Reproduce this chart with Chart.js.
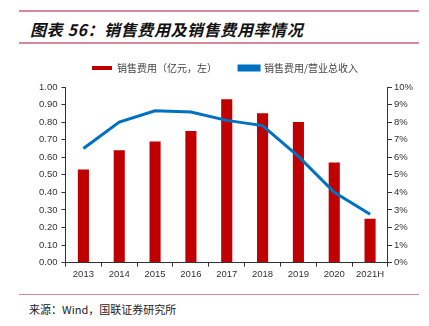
<!DOCTYPE html>
<html>
<head>
<meta charset="utf-8">
<script src="https://cdn.jsdelivr.net/npm/chart.js@4"></script>
<style>
  body { margin: 0; width: 429px; height: 326px; background: #fff; position: relative; overflow: hidden; }
  .rule { position: absolute; left: 19px; width: 400px; height: 2px; background: #d9889b; }
  #title { position: absolute; left: 30px; top: 17px; font: italic bold 16px "Noto Sans CJK SC", sans-serif; color: #111; letter-spacing: 0.6px; }
  #source { position: absolute; left: 29px; top: 301px; font: 11px "Noto Sans CJK SC", sans-serif; color: #222; }
  #wrap { position: absolute; left: 0; top: 41px; width: 429px; height: 241px; }
</style>
</head>
<body>
<div class="rule" style="top:10px"></div>
<div id="title">图表 56：销售费用及销售费用率情况</div>
<div class="rule" style="top:42px"></div>
<div id="wrap"><canvas id="chart"></canvas></div>
<div class="rule" style="top:294px; height:1px"></div>
<div id="source">来源：Wind，国联证券研究所</div>
<script>
// categories and series
const years = ['2013', '2014', '2015', '2016', '2017', '2018', '2019', '2020', '2021H'];
const salesExpense = [0.53, 0.64, 0.69, 0.75, 0.93, 0.85, 0.80, 0.57, 0.25]; // 亿元
const expenseRatio = [6.5, 8.0, 8.65, 8.57, 8.1, 7.8, 6.05, 4.0, 2.75]; // %

const ctx = document.getElementById('chart').getContext('2d');
const tickFont = { family: 'Liberation Sans, Arial, sans-serif', size: 9.5 };

// a little extra room under the legend
const legendGap = {
    id: 'legendGap',
    beforeInit(chart) {
        const fit = chart.legend.fit;
        chart.legend.fit = function () {
            fit.bind(chart.legend)();
            this.height += 4;
        };
    }
};

new Chart(ctx, {
    type: 'bar',
    data: {
        labels: years,
        datasets: [
            {
                type: 'line',
                label: '销售费用/营业总收入',
                data: expenseRatio,
                borderColor: '#0070c0',
                backgroundColor: '#0070c0',
                borderWidth: 3,
                pointRadius: 0,
                tension: 0,
                yAxisID: 'y1',
                order: 0
            },
            {
                label: '销售费用（亿元，左）',
                data: salesExpense,
                backgroundColor: '#c00000',
                barPercentage: 0.62,
                categoryPercentage: 0.5,
                yAxisID: 'y',
                order: 1
            }
        ]
    },
    options: {
        responsive: true,
        maintainAspectRatio: false,
        animation: false,
        layout: { padding: { left: 35, right: 14, top: 0, bottom: 0 } },
        plugins: {
            legend: {
                display: true,
                reverse: true,
                labels: {
                    boxWidth: 20,
                    boxHeight: 4,
                    padding: 22,
                    color: '#444',
                    font: { family: 'Noto Sans CJK SC', size: 10 }
                }
            },
            tooltip: { enabled: false }
        },
        scales: {
            x: {
                grid: { drawOnChartArea: false, offset: true, tickLength: 4, color: '#333' },
                border: { color: '#333', width: 1 },
                ticks: { color: '#333', font: tickFont, padding: 2, maxRotation: 0, minRotation: 0, autoSkip: false }
            },
            y: {
                position: 'left',
                min: 0,
                max: 1,
                grid: { drawOnChartArea: false, tickLength: 4, color: '#333' },
                border: { color: '#333', width: 1 },
                ticks: {
                    stepSize: 0.1,
                    color: '#333',
                    font: tickFont,
                    padding: 4,
                    callback: v => v.toFixed(2)
                }
            },
            y1: {
                position: 'right',
                min: 0,
                max: 10,
                grid: { drawOnChartArea: false, tickLength: 4, color: '#333' },
                border: { color: '#333', width: 1 },
                ticks: {
                    stepSize: 1,
                    color: '#333',
                    font: tickFont,
                    padding: 2,
                    callback: v => v + '%'
                }
            }
        }
    },
    plugins: [legendGap]
});
</script>
</body>
</html>
